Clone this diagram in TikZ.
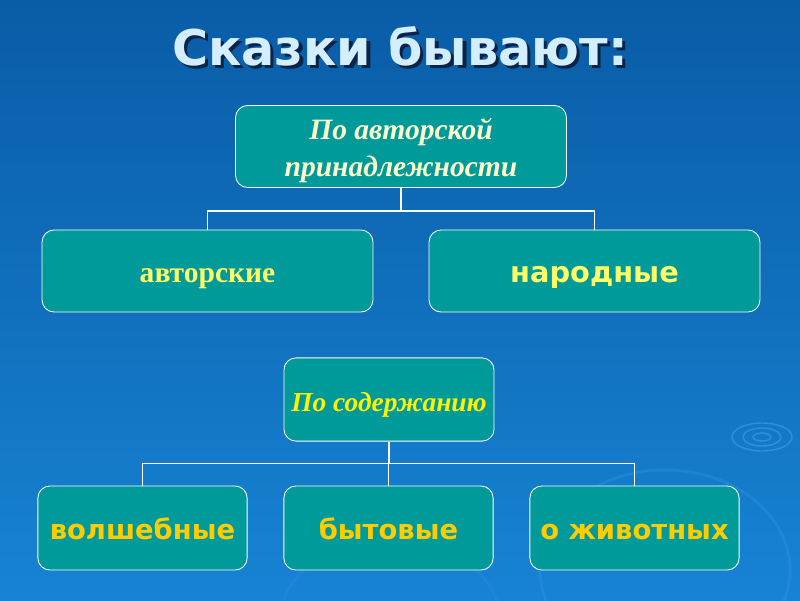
\documentclass[tikz,border=0pt]{standalone}
\usepackage{fontspec}
\setmainfont{Liberation Serif}
\setsansfont{DejaVu Sans}
\usetikzlibrary{positioning,calc}

\definecolor{bgtop}{HTML}{0A5CA6}
\definecolor{bgbot}{HTML}{1783D4}
\definecolor{tealbox}{HTML}{009A9A}
\definecolor{titleblue}{HTML}{D2EEFF}
\definecolor{shadowblue}{HTML}{0A2448}
\definecolor{paleyellow}{HTML}{FFFFCC}
\definecolor{lightyellow}{HTML}{FFFF66}
\definecolor{goldtext}{HTML}{FFCC00}
\definecolor{ripple}{HTML}{4AA8F0}

\begin{document}
\begin{tikzpicture}[x=0.025cm,y=-0.025cm,
  font=\normalsize,
  kind/.style={draw=white, line width=0.6pt, fill=tealbox, rounded corners=0.3cm,
    align=center, inner sep=2pt},
  oneline/.style={text height=17pt, text depth=0.5pt},
  widebox/.style={kind, minimum width=8.27cm, minimum height=2.05cm},
  smallbox/.style={kind, oneline, minimum width=5.23cm, minimum height=2.1cm,
    text=goldtext, font=\sffamily\bfseries\fontsize{19.5}{22}\selectfont},
  link/.style={draw=white, line width=1pt}]
    % background
    \shade[top color=bgtop, bottom color=bgbot] (0,0) rectangle (800,600);
    \useasboundingbox (0,0) rectangle (800,600);
    \draw[ripple, opacity=0.5, line width=1pt] (762,437) ellipse (30 and 14);
    \draw[ripple, opacity=0.5, line width=1pt] (762,437) ellipse (19 and 9);
    \draw[ripple, opacity=0.5, line width=1pt] (762,437) ellipse (9 and 4);
    \draw[ripple, opacity=0.2, line width=2pt] (665,570) ellipse (125 and 100);
    \draw[ripple, opacity=0.12, line width=2pt] (390,620) ellipse (110 and 80);
    %
    \node[text=titleblue, font=\sffamily\bfseries\fontsize{35}{40}\selectfont] (title) at (400,48)
      {\makebox[0pt][l]{\hspace{2.2pt}\raisebox{-2.2pt}{\color{shadowblue}Сказки бывают:}}Сказки бывают:};
    %
    \node[widebox, text=paleyellow, font=\bfseries\itshape\fontsize{21}{26}\selectfont] (byauthor) at (401,146.5) {\rule{0pt}{21pt}По авторской\\принадлежности};
    \node[widebox, oneline, text=lightyellow, font=\bfseries\fontsize{21}{24}\selectfont] (authored) at (207.5,271) {авторские};
    \node[widebox, oneline, text=lightyellow, font=\sffamily\bfseries\fontsize{20.5}{24}\selectfont] (folk) at (594.5,271) {народные};
    %
    \node[kind, oneline, minimum width=5.25cm, minimum height=2.08cm, text=yellow, font=\bfseries\itshape\fontsize{19.5}{24}\selectfont] (bycontent) at (389,399.5) {По содержанию};
    \node[smallbox] (magic) at (142.5,528) {волшебные};
    \node[smallbox] (everyday) at (388.5,528) {бытовые};
    \node[smallbox] (animals) at (634.5,528) {о животных};
    %
    \draw[link] (byauthor.south) -- ++(0,23) coordinate (fork1);
    \draw[link] (fork1) -| (authored.north);
    \draw[link] (fork1) -| (folk.north);
    \draw[link] (bycontent.south) -- ++(0,22) coordinate (fork2);
    \draw[link] (fork2) -| (magic.north);
    \draw[link] (fork2) -| (everyday.north);
    \draw[link] (fork2) -| (animals.north);
\end{tikzpicture}
\end{document}
